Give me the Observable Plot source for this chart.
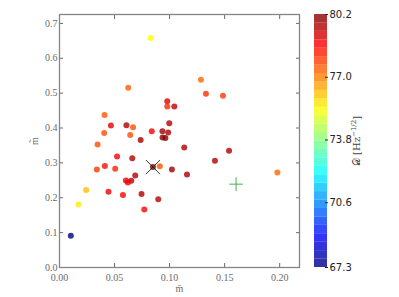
<!DOCTYPE html>
<html><head><meta charset="utf-8">
<script src="https://cdn.jsdelivr.net/npm/d3@7"></script>
<script src="https://cdn.jsdelivr.net/npm/@observablehq/plot@0.6"></script>
<style>
body{margin:0;background:#fff}
#wrap{position:relative;width:399px;height:297px;overflow:hidden}
#wrap svg{position:absolute;top:0}
#wrap svg.mainplot text{font-family:"Liberation Serif",serif !important}
</style>
</head><body><div id="wrap"></div>
<script>
// x values (m-bar)
const mbar = [0.0827,0.0624,0.1285,0.1330,0.1485,0.0979,0.0979,0.1043,0.0409,0.0467,
              0.0608,0.0668,0.0406,0.0642,0.0838,0.0997,0.0935,0.0987,0.0936,0.0962,
              0.0737,0.0346,0.1133,0.1540,0.0523,0.0661,0.1412,0.0412,0.0912,0.0339,
              0.0506,0.1021,0.0688,0.1158,0.1979,0.0603,0.0652,0.0621,0.0242,0.0445,
              0.0745,0.0576,0.0173,0.0897,0.0770,0.0103];
// y values (m-tilde)
const mtil = [0.658,0.5155,0.5385,0.498,0.4926,0.4766,0.462,0.462,0.437,0.407,
              0.408,0.402,0.3855,0.380,0.3905,0.414,0.3905,0.387,0.3725,0.371,
              0.3657,0.353,0.344,0.335,0.318,0.313,0.306,0.291,0.290,0.281,
              0.283,0.281,0.264,0.267,0.2726,0.2496,0.2487,0.2439,0.222,0.217,
              0.211,0.2076,0.1808,0.196,0.1664,0.0909];
// colour values D [Hz^-1/2]
const Dval = [75.4,77.4,77.3,78.0,77.9,79.0,78.1,79.4,77.5,78.9,
              79.6,77.6,77.6,77.6,78.7,79.6,79.8,79.6,80.0,80.1,
              79.7,77.6,79.6,79.6,78.6,79.6,79.6,78.5,77.5,77.9,
              78.2,79.8,79.6,79.7,77.3,78.8,79.5,78.7,76.2,78.8,
              79.6,78.6,75.6,79.5,78.6,67.3];
const bestMbar = [0.0849], bestMtil = [0.288], bestD = [80.2];
const trueMbar = [0.1604], trueMtil = [0.239];
const xTicks = [0, 0.05, 0.10, 0.15, 0.20];
const yTicks = [0, 0.1, 0.2, 0.3, 0.4, 0.5, 0.6, 0.7];
const cTicks = [67.3, 70.6, 73.8, 77.0, 80.2];
const cDomain = [67.3, 80.2];

function jet(t){
  const c = v => Math.max(0, Math.min(1, v));
  const r = c(1.5 - Math.abs(4*t-3)), g = c(1.5 - Math.abs(4*t-2)), b = c(1.5 - Math.abs(4*t-1));
  return d3.rgb(r*255, g*255, b*255).formatHex();
}
const colorOpts = {type: "linear", domain: cDomain, interpolate: jet};

const pts = mbar.map((x, i) => ({x, y: mtil[i], D: Dval[i]}));
const best = bestMbar.map((x, i) => ({x, y: bestMtil[i], D: bestD[i]}));
const truth = trueMbar.map((x, i) => ({x, y: trueMtil[i]}));

const axisCol = "#6a6a6a";
const main = Plot.plot({
  width: 399, height: 297,
  marginLeft: 59, marginRight: 100, marginTop: 14, marginBottom: 30,
  className: "mainplot",
  style: {fontFamily: "Liberation Serif", fontSize: "10px", background: "transparent"},
  x: {domain: [0, 0.218]},
  y: {domain: [0, 0.7255]},
  color: colorOpts,
  marks: [
    Plot.dot(pts, {x: "x", y: "y", fill: "D", r: 3, fillOpacity: 0.8}),
    Plot.dot(best, {x: "x", y: "y", fill: "D", r: 3, fillOpacity: 0.8}),
    Plot.dot(best, {x: "x", y: "y", symbol: "times", r: 6.5, stroke: "#222", strokeWidth: 0.9}),
    Plot.dot(truth, {x: "x", y: "y", symbol: "plus", r: 4.5, stroke: "#4caf50", strokeWidth: 1}),
    Plot.axisX(xTicks, {anchor: "bottom", tickSize: -4, tickPadding: 10, color: axisCol,
      tickFormat: d => d.toFixed(2), label: "m\u0304", labelAnchor: "center", labelArrow: "none", labelOffset: 24}),
    Plot.axisX(xTicks, {anchor: "top", tickSize: -4, tickFormat: () => "", color: axisCol, label: null}),
    Plot.axisY(yTicks, {anchor: "left", tickSize: -4, tickPadding: 6, color: axisCol,
      tickFormat: d => d.toFixed(1), label: "m\u0303", labelAnchor: "center", labelArrow: "none", labelOffset: 29}),
    Plot.axisY(yTicks, {anchor: "right", tickSize: -4, tickFormat: () => "", color: axisCol, label: null}),
    Plot.frame({stroke: "#858585", strokeWidth: 1.3})
  ]
});
main.style.left = "0px";
document.getElementById("wrap").appendChild(main);

const nBands = 30;
const bands = d3.range(nBands).map(i => {
  const a = cDomain[0] + (cDomain[1] - cDomain[0]) * i / nBands;
  const b = cDomain[0] + (cDomain[1] - cDomain[0]) * (i + 1) / nBands;
  return {y1: a, y2: b, v: (a + b) / 2};
});
const cbar = Plot.plot({
  width: 99, height: 297,
  marginLeft: 14, marginRight: 72, marginTop: 14, marginBottom: 30,
  style: {fontFamily: "DejaVu Sans", fontSize: "10px", background: "transparent"},
  y: {domain: cDomain},
  color: colorOpts,
  marks: [
    Plot.rect(bands, {y1: "y1", y2: "y2", fill: "v", fillOpacity: 0.8}),
    Plot.axisY(cTicks, {anchor: "right", tickSize: -3, tickPadding: 5, color: "#222",
      tickFormat: d => d.toFixed(1), label: null})
  ]
});
cbar.style.left = "300px";
const lab = d3.select(cbar).append("text")
  .attr("transform", "translate(60,141) rotate(-90)")
  .attr("text-anchor", "middle")
  .attr("font-family", "DejaVu Serif")
  .attr("font-size", 10)
  .attr("fill", "#444");
lab.append("tspan").text("\u{1D49F} [Hz");
lab.append("tspan").attr("font-size", 7).attr("dy", -4).text("\u22121/2");
lab.append("tspan").attr("dy", 4).text("]");
document.getElementById("wrap").appendChild(cbar);
</script>
</body></html>
